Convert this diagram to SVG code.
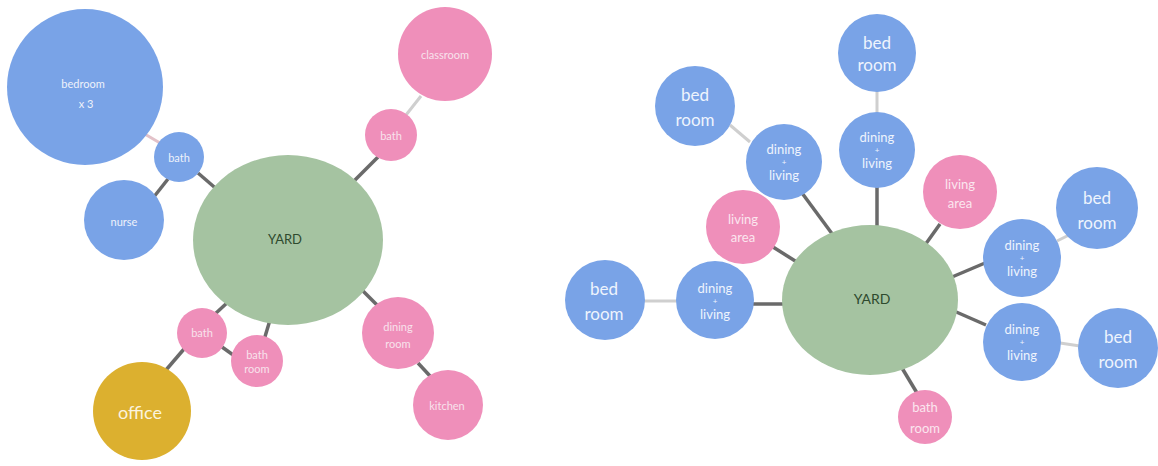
<svg xmlns="http://www.w3.org/2000/svg" width="1158" height="466" viewBox="0 0 1158 466">
<style>
.blue{fill:#79a3e7}
.pink{fill:#ef8fba}
.green{fill:#a5c3a1}
.gold{fill:#dcb02f}
.dark{stroke:#6a6a6a;stroke-width:3.5;fill:none}
.light{stroke:#cfcfcf;stroke-width:3;fill:none}
.lightp{stroke:#e3c2c9;stroke-width:3;fill:none}
text{font-family:Lato,"Open Sans","Liberation Sans",sans-serif;text-anchor:middle;dominant-baseline:central}
.s{font-size:11px;fill:#eef2fb}
.sp{font-size:11px;fill:#f8e2ec}
.b{font-size:17px;fill:#eef4fd}
.d{font-size:13px;fill:#eef4fd}
.pl{font-size:8px;fill:#eef4fd}
.dp{font-size:13px;fill:#fbe6ef}
.y{font-size:13px;fill:#2e4a2e}
</style>
<rect width="1158" height="466" fill="#ffffff"/>
<g id="connectors">
<line class="lightp" x1="143" y1="133" x2="160" y2="143"/>
<line class="dark" x1="198" y1="173" x2="220" y2="192"/>
<line class="dark" x1="168" y1="179" x2="153" y2="198"/>
<line class="light" x1="421" y1="96" x2="406" y2="115"/>
<line class="dark" x1="378" y1="157" x2="350" y2="185"/>
<line class="dark" x1="228" y1="302" x2="215" y2="314"/>
<line class="dark" x1="270" y1="320" x2="264" y2="340"/>
<line class="dark" x1="184" y1="349" x2="166" y2="370"/>
<line class="dark" x1="222" y1="347" x2="236" y2="357"/>
<line class="dark" x1="355" y1="283" x2="377" y2="305"/>
<line class="dark" x1="418" y1="363" x2="430" y2="376"/>
<line class="light" x1="877" y1="90" x2="877" y2="114"/>
<line class="dark" x1="877" y1="187" x2="877" y2="226"/>
<line class="light" x1="730" y1="125" x2="750" y2="142"/>
<line class="dark" x1="802" y1="193" x2="833" y2="235"/>
<line class="dark" x1="773" y1="247" x2="800" y2="264"/>
<line class="light" x1="644" y1="301" x2="677" y2="301"/>
<line class="dark" x1="753" y1="304" x2="784" y2="304"/>
<line class="dark" x1="902" y1="368" x2="917" y2="393"/>
<line class="dark" x1="940" y1="224" x2="925" y2="245"/>
<line class="dark" x1="952" y1="277" x2="985" y2="263"/>
<line class="light" x1="1057" y1="241" x2="1069" y2="235"/>
<line class="dark" x1="954" y1="311" x2="986" y2="325"/>
<line class="light" x1="1060" y1="343" x2="1080" y2="346"/>
</g>
<g id="n-bedroom3"><circle class="blue" cx="85" cy="87" r="78"/><text class="s" x="83" y="83">bedroom</text><text class="s" x="86" y="103">x 3</text></g>
<g id="n-bath1"><circle class="blue" cx="179" cy="157" r="25"/><text class="s" x="179" y="157">bath</text></g>
<g id="n-nurse"><circle class="blue" cx="124" cy="220" r="40"/><text class="s" x="124" y="221">nurse</text></g>
<g id="n-yard1"><ellipse class="green" cx="288" cy="240" rx="95" ry="85"/><text class="y" x="285" y="239">YARD</text></g>
<g id="n-classroom"><circle class="pink" cx="445" cy="54" r="47"/><text class="sp" x="445" y="54">classroom</text></g>
<g id="n-bath2"><circle class="pink" cx="391" cy="135" r="26"/><text class="sp" x="391" y="135">bath</text></g>
<g id="n-bath3"><circle class="pink" cx="202" cy="333" r="25"/><text class="sp" x="202" y="332">bath</text></g>
<g id="n-bathroom1"><circle class="pink" cx="257" cy="361" r="26"/><text class="sp" x="257" y="354">bath</text><text class="sp" x="257" y="368">room</text></g>
<g id="n-office"><circle class="gold" cx="142" cy="411" r="49"/><text x="140" y="412" style="font-size:18px;fill:#fbf3de">office</text></g>
<g id="n-dining"><circle class="pink" cx="398" cy="333" r="36"/><text class="sp" x="398" y="326">dining</text><text class="sp" x="398" y="343">room</text></g>
<g id="n-kitchen"><circle class="pink" cx="448" cy="405" r="35"/><text class="sp" x="447" y="405">kitchen</text></g>
<g id="n-yard2"><ellipse class="green" cx="870" cy="300" rx="88" ry="75"/><text class="y" x="872" y="298" style="font-size:14px">YARD</text></g>
<g id="n-bed-top"><circle class="blue" cx="877" cy="53" r="39"/><text class="b" x="877" y="42">bed</text><text class="b" x="877" y="64">room</text></g>
<g id="n-dl-top"><circle class="blue" cx="877" cy="150" r="38"/><text class="d" x="877" y="137">dining</text><text class="pl" x="877" y="150">+</text><text class="d" x="877" y="163">living</text></g>
<g id="n-bed-ul"><circle class="blue" cx="695" cy="106" r="40"/><text class="b" x="695" y="94">bed</text><text class="b" x="695" y="119">room</text></g>
<g id="n-dl-ul"><circle class="blue" cx="784" cy="162" r="38"/><text class="d" x="784" y="149">dining</text><text class="pl" x="784" y="162">+</text><text class="d" x="784" y="175">living</text></g>
<g id="n-la-left"><circle class="pink" cx="743" cy="227" r="37"/><text class="dp" x="743" y="219">living</text><text class="dp" x="743" y="237">area</text></g>
<g id="n-bed-l"><circle class="blue" cx="605" cy="300" r="40"/><text class="b" x="604" y="288">bed</text><text class="b" x="604" y="313">room</text></g>
<g id="n-dl-l"><circle class="blue" cx="715" cy="300" r="39"/><text class="d" x="715" y="288">dining</text><text class="pl" x="715" y="301">+</text><text class="d" x="715" y="314">living</text></g>
<g id="n-br-bottom"><circle class="pink" cx="925" cy="417" r="27"/><text class="dp" x="925" y="407">bath</text><text class="dp" x="925" y="428">room</text></g>
<g id="n-la-right"><circle class="pink" cx="960" cy="192" r="37"/><text class="dp" x="960" y="184">living</text><text class="dp" x="960" y="203">area</text></g>
<g id="n-dl-r1"><circle class="blue" cx="1022" cy="258" r="39"/><text class="d" x="1022" y="245">dining</text><text class="pl" x="1022" y="258">+</text><text class="d" x="1022" y="271">living</text></g>
<g id="n-bed-r1"><circle class="blue" cx="1097" cy="208" r="41"/><text class="b" x="1097" y="197">bed</text><text class="b" x="1097" y="222">room</text></g>
<g id="n-dl-r2"><circle class="blue" cx="1022" cy="342" r="39"/><text class="d" x="1022" y="329">dining</text><text class="pl" x="1022" y="342">+</text><text class="d" x="1022" y="355">living</text></g>
<g id="n-bed-r2"><circle class="blue" cx="1118" cy="348" r="40"/><text class="b" x="1118" y="336">bed</text><text class="b" x="1118" y="361">room</text></g>
</svg>
